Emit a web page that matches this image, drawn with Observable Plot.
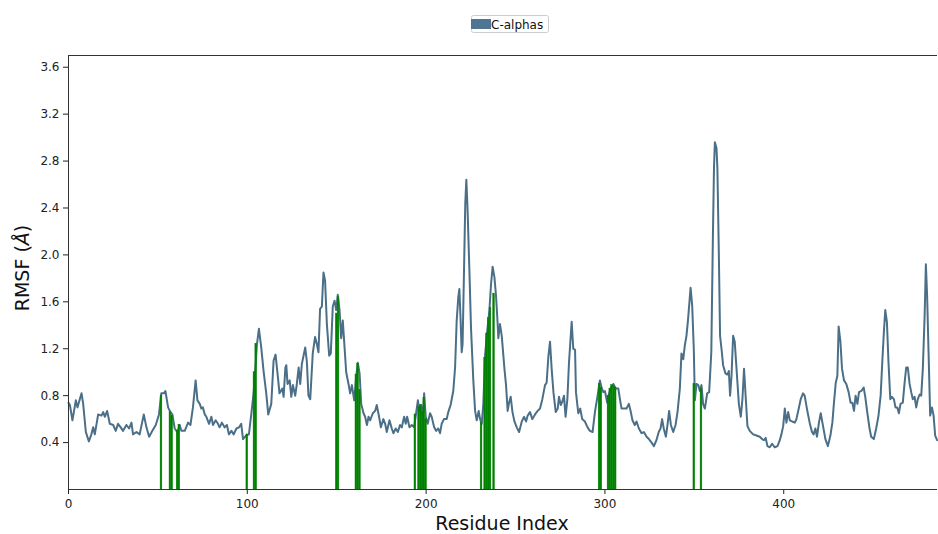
<!DOCTYPE html>
<html>
<head>
<meta charset="utf-8">
<script src="https://cdn.jsdelivr.net/npm/d3@7"></script>
<script src="https://cdn.jsdelivr.net/npm/@observablehq/plot@0.6"></script>
<style>
  html, body { margin: 0; padding: 0; background: #fff; }
  #chart svg { display: block; }
</style>
</head>
<body>
<div id="chart"></div>
<script>
// Per-residue C-alpha RMSF profile (Å)
const residue = [
  0, 0.8, 2.2, 4.1, 5.0, 7.3, 8.2, 9.7, 11.4, 12.8, 13.8, 14.7, 16.6, 18.4, 19.4, 20.3, 21.6, 23.1, 25.0, 26.4,
  27.7, 29.2, 30.5, 32.4, 33.9, 35.2, 36.1, 38.0, 39.8, 42.1, 43.6, 45.1, 46.9, 48.8, 50.6, 51.9, 53.3, 54.2, 55.7, 57.0,
  58.1, 59.4, 60.9, 62.2, 63.1, 65.0, 66.9, 68.2, 69.6, 71.1, 72.1, 73.4, 74.3, 75.2, 76.2, 77.1, 78.6, 79.9, 80.8, 82.3,
  83.6, 84.5, 85.8, 87.3, 88.6, 89.7, 91.1, 92.4, 93.9, 95.4, 96.6, 97.6, 99.4, 100.9, 102.2, 103.5, 104.6, 105.4, 106.5, 107.8,
  109.1, 110.6, 111.7, 113.4, 114.7, 115.8, 117.1, 118.0, 119.6, 120.3, 121.3, 121.8, 122.5, 123.7, 124.6, 125.5, 126.8, 127.7, 128.7, 129.6,
  130.5, 132.4, 133.3, 134.2, 135.2, 136.6, 137.9, 138.9, 139.8, 140.7, 141.7, 142.6, 143.5, 144.5, 145.8, 146.7, 147.8, 148.8, 149.7, 150.6,
  151.6, 152.5, 153.4, 154.4, 155.3, 156.6, 157.5, 158.5, 159.8, 160.9, 161.8, 162.8, 163.7, 165.0, 165.9, 166.9, 167.8, 168.7, 170.2, 171.5,
  172.4, 173.7, 174.7, 176.1, 177.1, 178.0, 179.5, 180.8, 181.7, 183.0, 184.2, 185.4, 186.4, 187.7, 188.6, 189.4, 190.7, 192.0, 193.3, 194.4,
  195.4, 196.3, 197.2, 198.2, 198.9, 199.8, 200.9, 202.2, 203.1, 204.5, 205.6, 206.8, 207.8, 208.7, 210.0, 211.5, 212.4, 213.7, 215.2, 216.2,
  217.1, 218.0, 218.6, 219.3, 219.9, 220.4, 221.2, 221.9, 222.5, 223.2, 224.2, 225.1, 226.4, 227.4, 228.3, 229.4, 230.2, 231.1, 232.0, 233.0,
  234.3, 235.4, 236.3, 237.2, 238.2, 239.1, 239.8, 240.4, 241.3, 242.3, 243.8, 244.7, 245.6, 246.4, 247.3, 248.3, 249.4, 250.7, 252.0, 253.5,
  254.8, 255.9, 256.8, 258.1, 259.4, 260.9, 262.4, 263.7, 265.0, 266.5, 267.4, 268.4, 269.3, 270.2, 271.2, 272.5, 273.6, 274.3, 275.3, 276.2,
  277.1, 278.0, 279.0, 279.9, 281.4, 282.3, 283.3, 283.8, 285.1, 286.2, 287.3, 288.8, 290.3, 291.6, 293.1, 294.4, 295.9, 297.2, 298.1, 299.1,
  300.0, 301.3, 302.2, 303.4, 304.7, 306.0, 307.5, 308.4, 309.3, 310.8, 312.1, 313.4, 314.5, 315.4, 316.7, 317.7, 319.0, 320.5, 321.8, 323.3,
  324.6, 326.1, 327.4, 328.8, 330.1, 331.1, 332.0, 332.9, 334.1, 335.0, 335.9, 336.9, 338.2, 339.5, 340.6, 341.9, 342.8, 343.8, 344.7, 345.6,
  346.5, 347.9, 348.8, 349.7, 350.3, 351.2, 352.2, 353.1, 354.0, 354.9, 355.9, 357.2, 358.3, 359.5, 360.4, 361.0, 361.5, 362.4, 362.9, 363.7,
  364.4, 365.2, 366.1, 367.4, 368.5, 369.3, 370.0, 370.8, 371.7, 372.6, 373.6, 374.9, 376.0, 376.9, 377.8, 378.8, 379.7, 381.0, 382.9, 384.7,
  386.6, 387.9, 389.0, 389.9, 390.9, 392.2, 393.5, 395.0, 396.5, 397.8, 398.7, 399.7, 400.6, 401.5, 402.5, 403.4, 404.7, 406.2, 407.1, 408.4,
  409.5, 410.8, 411.7, 413.2, 414.5, 415.8, 416.7, 417.7, 418.6, 419.7, 420.7, 422.0, 423.3, 424.7, 426.1, 427.2, 428.1, 429.1, 430.0, 430.7,
  431.7, 432.6, 433.7, 435.0, 436.3, 437.4, 438.4, 439.3, 440.2, 441.2, 442.1, 443.4, 444.7, 445.6, 446.7, 448.0, 448.9, 450.4, 451.7, 453.0,
  454.2, 455.1, 456.0, 456.8, 457.7, 458.6, 459.6, 460.5, 461.6, 462.5, 463.5, 464.4, 465.3, 466.6, 467.6, 468.5, 469.4, 470.4, 471.3, 472.2,
  473.2, 474.1, 475.0, 476.0, 476.9, 477.8, 478.8, 479.5, 480.2, 481.0, 481.9, 482.9, 483.8, 484.7, 485.8
];
const rmsf = [
  0.74, 0.72, 0.59, 0.76, 0.70, 0.82, 0.73, 0.49, 0.41, 0.47, 0.53, 0.47, 0.64, 0.63, 0.66, 0.62, 0.67, 0.56, 0.55, 0.50,
  0.56, 0.53, 0.50, 0.55, 0.52, 0.57, 0.47, 0.49, 0.47, 0.64, 0.53, 0.45, 0.50, 0.55, 0.64, 0.82, 0.82, 0.84, 0.70, 0.66,
  0.64, 0.52, 0.49, 0.55, 0.50, 0.50, 0.57, 0.55, 0.70, 0.93, 0.76, 0.73, 0.69, 0.70, 0.64, 0.62, 0.56, 0.62, 0.55, 0.59,
  0.56, 0.53, 0.57, 0.53, 0.55, 0.47, 0.50, 0.47, 0.52, 0.53, 0.56, 0.43, 0.46, 0.47, 0.64, 0.82, 1.05, 1.24, 1.37, 1.21,
  1.01, 0.82, 0.64, 0.73, 1.10, 1.15, 0.96, 0.82, 0.86, 0.79, 1.04, 1.06, 0.90, 0.93, 0.79, 0.89, 0.80, 0.90, 1.04, 0.90,
  1.07, 1.21, 1.09, 0.80, 0.77, 1.16, 1.30, 1.24, 1.17, 1.54, 1.56, 1.85, 1.78, 1.41, 1.14, 1.16, 1.56, 1.61, 1.53, 1.66,
  1.53, 1.29, 1.44, 1.21, 1.00, 0.90, 0.82, 0.89, 0.76, 0.96, 1.08, 0.99, 0.73, 0.65, 0.62, 0.55, 0.62, 0.59, 0.65, 0.67,
  0.72, 0.62, 0.53, 0.60, 0.56, 0.49, 0.59, 0.52, 0.48, 0.52, 0.49, 0.55, 0.53, 0.62, 0.56, 0.62, 0.53, 0.55, 0.53, 0.65,
  0.76, 0.67, 0.72, 0.62, 0.82, 0.62, 0.56, 0.65, 0.62, 0.53, 0.50, 0.52, 0.48, 0.56, 0.60, 0.60, 0.66, 0.72, 0.84, 1.04,
  1.44, 1.64, 1.71, 1.44, 1.17, 1.24, 1.87, 2.44, 2.64, 2.38, 1.87, 1.38, 0.93, 0.67, 0.59, 0.67, 0.60, 0.56, 0.73, 1.15,
  1.37, 1.53, 1.75, 1.90, 1.81, 1.65, 1.47, 1.29, 1.41, 1.31, 1.03, 0.89, 0.67, 0.74, 0.79, 0.66, 0.58, 0.53, 0.49, 0.58,
  0.62, 0.58, 0.63, 0.66, 0.60, 0.64, 0.67, 0.69, 0.77, 0.89, 0.91, 1.14, 1.26, 1.03, 0.83, 0.66, 0.69, 0.79, 0.72, 0.75,
  0.80, 0.62, 0.77, 1.08, 1.43, 1.20, 1.19, 0.83, 0.65, 0.69, 0.60, 0.58, 0.53, 0.50, 0.49, 0.66, 0.80, 0.93, 0.87, 0.83,
  0.84, 0.74, 0.81, 0.87, 0.90, 0.86, 0.86, 0.77, 0.69, 0.69, 0.69, 0.73, 0.66, 0.59, 0.55, 0.58, 0.52, 0.48, 0.49, 0.45,
  0.43, 0.40, 0.37, 0.42, 0.49, 0.52, 0.60, 0.52, 0.45, 0.55, 0.67, 0.55, 0.49, 0.55, 0.66, 0.86, 1.16, 1.11, 1.23, 1.31,
  1.45, 1.72, 1.57, 1.20, 0.76, 0.90, 0.89, 0.84, 0.89, 0.73, 0.69, 0.82, 0.83, 1.17, 2.17, 2.74, 2.96, 2.91, 2.74, 2.02,
  1.31, 1.20, 1.06, 0.99, 0.98, 1.01, 0.80, 0.97, 1.31, 1.26, 1.03, 0.73, 0.62, 0.77, 1.03, 0.77, 0.54, 0.50, 0.47, 0.46,
  0.45, 0.43, 0.42, 0.44, 0.37, 0.36, 0.39, 0.36, 0.37, 0.42, 0.47, 0.54, 0.69, 0.57, 0.66, 0.59, 0.58, 0.57, 0.60, 0.69,
  0.77, 0.82, 0.80, 0.67, 0.57, 0.49, 0.47, 0.52, 0.45, 0.57, 0.65, 0.54, 0.43, 0.37, 0.46, 0.57, 0.74, 0.91, 0.97, 1.39,
  1.26, 1.03, 0.93, 0.90, 0.83, 0.74, 0.74, 0.67, 0.80, 0.73, 0.83, 0.84, 0.87, 0.79, 0.66, 0.52, 0.45, 0.43, 0.52, 0.63,
  0.80, 1.08, 1.34, 1.53, 1.43, 1.08, 0.77, 0.79, 0.77, 0.70, 0.70, 0.65, 0.73, 0.74, 0.91, 1.04, 1.04, 0.90, 0.83, 0.77,
  0.79, 0.70, 0.77, 0.81, 0.80, 1.03, 1.48, 1.92, 1.65, 1.17, 0.63, 0.70, 0.63, 0.46, 0.42
];

// Contact residues, drawn as green bars up to their RMSF
const contactResidue = [
  52, 57, 58, 61, 62, 100, 104, 105, 150, 151, 161, 162, 163, 194, 196, 197, 198, 199, 200,
  231, 233, 234, 235, 236, 238, 297, 298, 302, 303, 304, 305, 306, 350, 354
];
const contactRmsf = [
  0.80, 0.66, 0.63, 0.50, 0.55, 0.47, 1.00, 1.24, 1.50, 1.64, 0.98, 1.07, 0.85, 0.64, 0.70, 0.72, 0.66, 0.78, 0.60,
  0.57, 1.12, 1.33, 1.46, 1.55, 1.67, 0.90, 0.87, 0.80, 0.86, 0.89, 0.88, 0.87, 0.90, 0.86
];

const xTicks = [0, 100, 200, 300, 400];
const yTicks = [0.4, 0.8, 1.2, 1.6, 2.0, 2.4, 2.8, 3.2, 3.6];
const seriesName = "C-alphas";
const xTitle = "Residue Index";

const lineColor = "#4b6f88";
const barColor = "#008000";
const spineColor = "#333";
const barHalfWidth = 0.5; // in residues

const calpha = residue.map((r, i) => ({residue: r, rmsf: rmsf[i]}));
const contacts = contactResidue.map((r, i) => ({residue: r, rmsf: contactRmsf[i]}));

const W = 938, H = 534;
const chart = Plot.plot({
  width: W,
  height: H,
  marginLeft: 68,
  marginRight: 1,
  marginTop: 55,
  marginBottom: 45,
  style: {fontFamily: "'DejaVu Sans', sans-serif", fontSize: "12px", color: "#222", background: "#fff"},
  x: {domain: [0, 486]},
  y: {domain: [0, 3.7]},
  marks: [
    Plot.line(calpha, {x: "residue", y: "rmsf", stroke: lineColor, strokeWidth: 2}),
    Plot.rectY(contacts, {
      x1: d => d.residue - barHalfWidth,
      x2: d => d.residue + barHalfWidth,
      y1: 0,
      y2: "rmsf",
      fill: barColor,
      stroke: barColor,
      strokeWidth: 0.4
    }),
    Plot.axisX({ticks: xTicks, tickSize: 5, tickPadding: 5, label: null, tickFormat: d => String(d)}),
    Plot.axisY({ticks: yTicks, tickSize: 5, tickPadding: 4, label: null, tickFormat: d => d.toFixed(1)}),
    Plot.ruleY([0], {stroke: spineColor}),
    Plot.ruleY([3.7], {stroke: spineColor}),
    Plot.ruleX([0], {stroke: spineColor})
  ]
});
document.getElementById("chart").append(chart);

// Axis titles and legend
const svg = d3.select(chart);
svg.append("text")
  .attr("x", 502).attr("y", 530)
  .attr("text-anchor", "middle")
  .attr("font-size", 19)
  .attr("fill", "#111")
  .text(xTitle);

const yTitle = svg.append("text")
  .attr("transform", "translate(29,268) rotate(-90)")
  .attr("text-anchor", "middle")
  .attr("font-size", 19)
  .attr("fill", "#111");
yTitle.append("tspan").text("RMSF (");
yTitle.append("tspan").attr("font-style", "italic").text("Å");
yTitle.append("tspan").text(")");

const legend = svg.append("g");
legend.append("rect")
  .attr("x", 471.5).attr("y", 15.5).attr("width", 77).attr("height", 17).attr("rx", 2)
  .attr("fill", "#fff").attr("stroke", "#ccc");
legend.append("rect")
  .attr("x", 471).attr("y", 19).attr("width", 20).attr("height", 10)
  .attr("fill", "#4e7592");
legend.append("text")
  .attr("x", 491).attr("y", 28.5)
  .attr("text-anchor", "start")
  .attr("font-size", 12)
  .attr("fill", "#111")
  .text(seriesName);
</script>
</body>
</html>
